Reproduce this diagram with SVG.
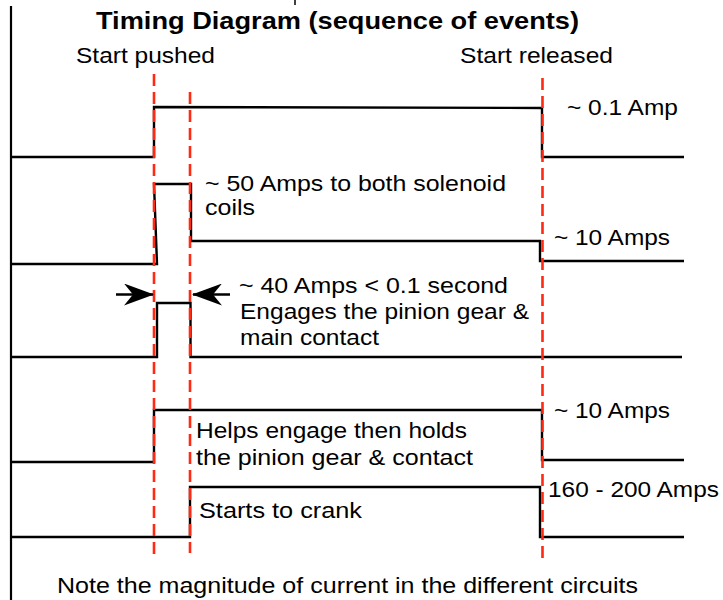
<svg xmlns="http://www.w3.org/2000/svg" width="723" height="600" viewBox="0 0 723 600">
<style>
.w{fill:none;stroke:#000;stroke-width:2.4;stroke-linejoin:miter}
.d{fill:none;stroke:#ff2a14;stroke-width:2.6;stroke-dasharray:12 6}
.t{font-family:"Liberation Sans",Arial,sans-serif;font-size:22px;fill:#000}
.b{font-family:"Liberation Sans",Arial,sans-serif;font-size:24px;font-weight:bold;fill:#000}
</style>
<defs>
<marker id="ah" viewBox="0 0 30 22" refX="29" refY="11" markerWidth="30" markerHeight="22" markerUnits="userSpaceOnUse" orient="auto">
<path d="M0,0 L30,11 L0,22 L9,11 Z" fill="#000"/>
</marker>
</defs>
<rect width="723" height="600" fill="#fff"/>
<g id="axis">
<line x1="11" y1="6" x2="11" y2="600" stroke="#000" stroke-width="2.2"/>
<line x1="295" y1="0" x2="295" y2="5" stroke="#000" stroke-width="1.5"/>
</g>
<g id="title">
<text class="b" x="96" y="29" textLength="483" lengthAdjust="spacingAndGlyphs">Timing Diagram (sequence of events)</text>
<text class="t" x="76" y="63" textLength="139" lengthAdjust="spacingAndGlyphs">Start pushed</text>
<text class="t" x="460" y="63" textLength="153" lengthAdjust="spacingAndGlyphs">Start released</text>
</g>
<g id="row1">
<polyline class="w" points="11,157 154,157 154,107 542,108 542,157 684,157"/>
<text class="t" x="567" y="115" textLength="111" lengthAdjust="spacingAndGlyphs">~ 0.1 Amp</text>
</g>
<g id="row2">
<polyline class="w" points="11,264 157,264 154,184 191,184 191,241 540,241 540,261 684,261"/>
<text class="t" x="205" y="191" textLength="301" lengthAdjust="spacingAndGlyphs">~ 50 Amps to both solenoid</text>
<text class="t" x="205" y="215" textLength="50" lengthAdjust="spacingAndGlyphs">coils</text>
<text class="t" x="554" y="245" textLength="116" lengthAdjust="spacingAndGlyphs">~ 10 Amps</text>
</g>
<g id="row3">
<polyline class="w" points="11,357 157,357 157,303 190.5,303 190.5,357 682,357"/>
<text class="t" x="239" y="293" textLength="269" lengthAdjust="spacingAndGlyphs">~ 40 Amps &lt; 0.1 second</text>
<text class="t" x="240" y="319" textLength="289" lengthAdjust="spacingAndGlyphs">Engages the pinion gear &amp;</text>
<text class="t" x="240" y="345" textLength="139" lengthAdjust="spacingAndGlyphs">main contact</text>
</g>
<g id="row4">
<polyline class="w" points="11,462 154,462 154,410 542,410 542,460 684,460"/>
<text class="t" x="196" y="438" textLength="271" lengthAdjust="spacingAndGlyphs">Helps engage then holds</text>
<text class="t" x="196" y="465" textLength="277" lengthAdjust="spacingAndGlyphs">the pinion gear &amp; contact</text>
<text class="t" x="554" y="418" textLength="116" lengthAdjust="spacingAndGlyphs">~ 10 Amps</text>
</g>
<g id="row5">
<polyline class="w" points="11,537 190,537 190,487 540,487 540,537 684,537"/>
<text class="t" x="199" y="518" textLength="163" lengthAdjust="spacingAndGlyphs">Starts to crank</text>
<text class="t" x="548" y="497" textLength="171" lengthAdjust="spacingAndGlyphs">160 - 200 Amps</text>
</g>
<g id="connectors">
<line class="d" x1="154" y1="74" x2="154" y2="557"/>
<line class="d" x1="190" y1="92" x2="190" y2="553"/>
<line class="d" x1="542.5" y1="78" x2="542.5" y2="560"/>
<line x1="116" y1="294.5" x2="153" y2="294.5" stroke="#000" stroke-width="2.4" marker-end="url(#ah)"/>
<line x1="230" y1="294.5" x2="193" y2="294.5" stroke="#000" stroke-width="2.4" marker-end="url(#ah)"/>
</g>
<g id="note">
<text class="t" x="57" y="593" textLength="581" lengthAdjust="spacingAndGlyphs">Note the magnitude of current in the different circuits</text>
</g>
</svg>
